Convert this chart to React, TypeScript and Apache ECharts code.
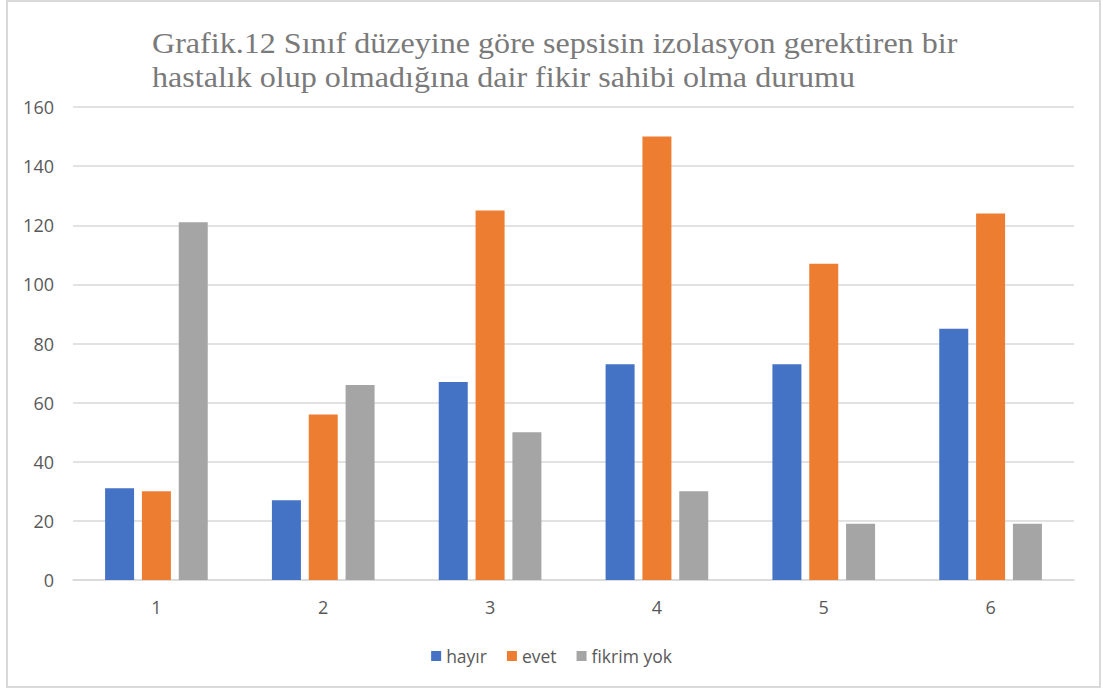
import React, { useEffect, useRef } from "react";
import * as echarts from "echarts";

const categories = ["1", "2", "3", "4", "5", "6"];
const hayir = [31, 27, 67, 73, 73, 85];
const evet = [30, 56, 125, 150, 107, 124];
const fikrimYok = [121, 66, 50, 30, 19, 19];
const seriesNames = ["hayır", "evet", "fikrim yok"];
const colors = ["#4472C4", "#ED7D31", "#A5A5A5"];
const titleText =
  "Grafik.12 Sınıf düzeyine göre sepsisin izolasyon gerektiren bir\nhastalık olup olmadığına dair fikir sahibi olma durumu";

export default function App() {
  const ref = useRef<HTMLDivElement>(null);
  useEffect(() => {
    if (!ref.current) return;
    const chart = echarts.init(ref.current, undefined, { renderer: "svg" });
    const datas = [hayir, evet, fikrimYok];
    chart.setOption({
      animation: false,
      backgroundColor: "#ffffff",
      graphic: [
        {
          type: "rect",
          shape: { x: 7, y: 1, width: 1093, height: 686 },
          style: { fill: "none", stroke: "#d9d9d9", lineWidth: 2 },
          silent: true,
        },
        {
          type: "text",
          x: 152,
          y: 26,
          scaleX: 1.07,
          style: {
            text: titleText,
            fontFamily: "Liberation Serif",
            fontSize: 30,
            lineHeight: 34,
            fill: "#7a7a7a",
            textVerticalAlign: "top",
          },
          silent: true,
        },
      ],
      legend: {
        top: 642,
        left: "center",
        itemWidth: 10,
        itemHeight: 10,
        itemGap: 20,
        icon: "rect",
        data: seriesNames,
        textStyle: { fontFamily: "Open Sans", fontSize: 17.5, color: "#595959" },
      },
      grid: { left: 73, right: 29, top: 107, bottom: 111 },
      xAxis: {
        type: "category",
        data: categories,
        axisLine: { lineStyle: { color: "#d9d9d9", width: 1.5 } },
        axisTick: { show: false },
        axisLabel: { fontFamily: "Open Sans", fontSize: 18, color: "#595959", margin: 18 },
      },
      yAxis: {
        type: "value",
        min: 0,
        max: 160,
        interval: 20,
        axisLine: { show: false },
        axisTick: { show: false },
        splitLine: { lineStyle: { color: "#d9d9d9", width: 1.5 } },
        axisLabel: { fontFamily: "Open Sans", fontSize: 18, color: "#595959", margin: 19 },
      },
      series: seriesNames.map((name, i) => ({
        name,
        type: "bar",
        data: datas[i],
        barWidth: 29,
        barGap: "27%",
        itemStyle: { color: colors[i] },
      })),
    });
    return () => chart.dispose();
  }, []);
  return (
    <div
      ref={ref}
      style={{ position: "absolute", left: 0, top: 0, width: 1103, height: 691 }}
    />
  );
}
